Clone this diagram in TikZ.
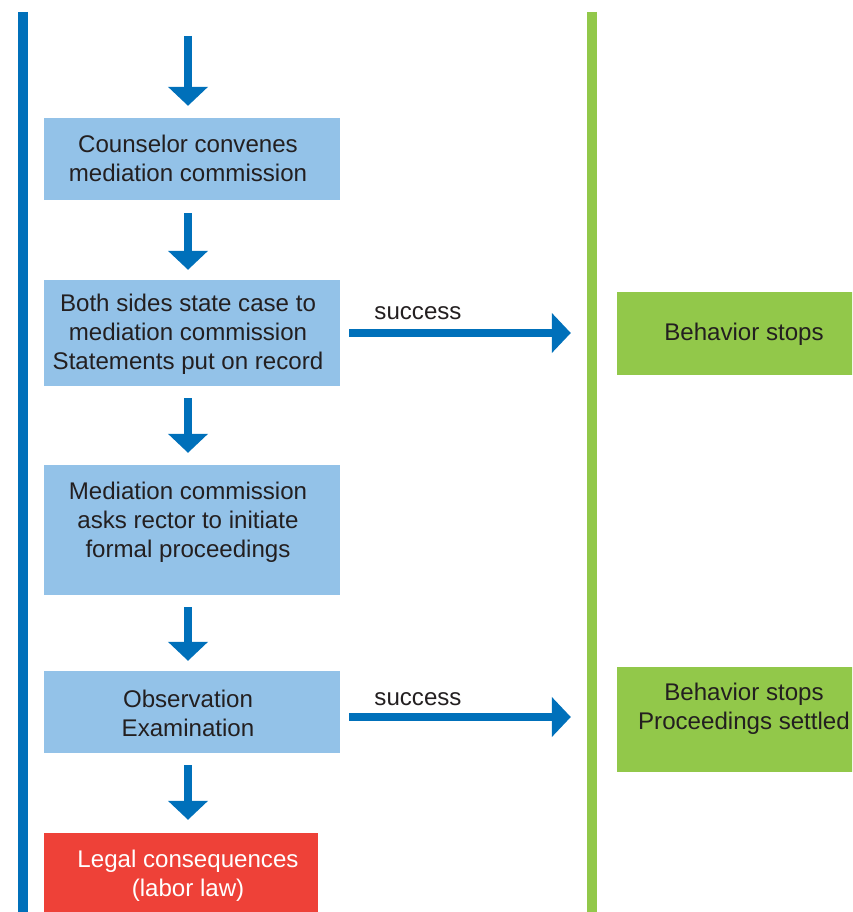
\documentclass[tikz,border=0pt]{standalone}
\usepackage{fontspec}
\setmainfont{Liberation Sans}
\usetikzlibrary{arrows.meta}
\definecolor{dblue}{HTML}{0070BA}
\definecolor{lblue}{HTML}{93C2E8}
\definecolor{lgreen}{HTML}{92C84A}
\definecolor{lred}{HTML}{EE4138}
\definecolor{tgray}{HTML}{231F20}
\tikzset{
  box/.style={fill=lblue, draw=none, minimum width=296pt, inner sep=0pt},
  gbox/.style={fill=lgreen, draw=none, minimum width=254pt, inner sep=0pt},
  txt/.style={align=center, text=tgray, font=\fontsize{24.1}{28.8}\selectfont, inner sep=0pt},
  flow/.style={draw=dblue, line width=8pt, -{Triangle[width=39pt,length=19pt]}},
  bar/.style={line width=10pt}
}
\begin{document}
\begin{tikzpicture}[x=1pt,y=-1pt]
\clip (0,0) rectangle (852,912);
\useasboundingbox (0,0) rectangle (852,912);
\draw[bar, dblue] (23,12) -- (23,912);
\draw[bar, lgreen] (592,12) -- (592,912);
% left column boxes
\node[box, minimum height=82pt] (b1) at (192,159) {};
\node[txt] (t1) at (188,158) {Counselor convenes\\mediation commission};
\node[box, minimum height=106pt] (b2) at (192,333) {};
\node[txt] (t2) at (188,334) {Both sides state case to\\mediation commission\\Statements put on record};
\node[box, minimum height=130pt] (b3) at (192,530) {};
\node[txt] (t3) at (188,522) {Mediation commission\\asks rector to initiate\\formal proceedings};
\node[box, minimum height=82pt] (b4) at (192,712) {};
\node[txt] (t4) at (188,713) {Observation\\Examination};
\node[fill=lred, minimum width=274pt, minimum height=80pt, inner sep=0pt] (b5) at (181,873) {};
\node[txt, text=white] (t5) at (188,876) {Legal consequences\\(labor law)};
% right column
\node[gbox, minimum height=83pt] (g1) at (744,333.5) {};
\node[txt] (tg1) at (744,334) {Behavior stops};
\node[gbox, minimum height=105pt] (g2) at (744,719.5) {};
\node[txt] (tg2) at (744,709) {Behavior stops\\Proceedings settled};
% vertical arrows
\coordinate (top) at (188,36);
\draw[flow, shorten >=12pt] (top) -- ([xshift=-4pt]b1.north);
\draw[flow, shorten <=13pt, shorten >=10pt] ([xshift=-4pt]b1.south) -- ([xshift=-4pt]b2.north);
\draw[flow, shorten <=12pt, shorten >=12pt] ([xshift=-4pt]b2.south) -- ([xshift=-4pt]b3.north);
\draw[flow, shorten <=12pt, shorten >=10pt] ([xshift=-4pt]b3.south) -- ([xshift=-4pt]b4.north);
\draw[flow, shorten <=12pt, shorten >=13pt] ([xshift=-4pt]b4.south) -- ([xshift=7pt]b5.north);
% success arrows
\draw[flow, shorten <=9pt, shorten >=46pt] (b2.east) -- (b2.east -| g1.west);
\node[txt] (s1) at (418,313) {success};
\draw[flow, shorten <=9pt, shorten >=46pt] ([yshift=-5pt]b4.east) -- ([yshift=2.5pt]g2.west);
\node[txt] (s2) at (418,699) {success};
\end{tikzpicture}
\end{document}
